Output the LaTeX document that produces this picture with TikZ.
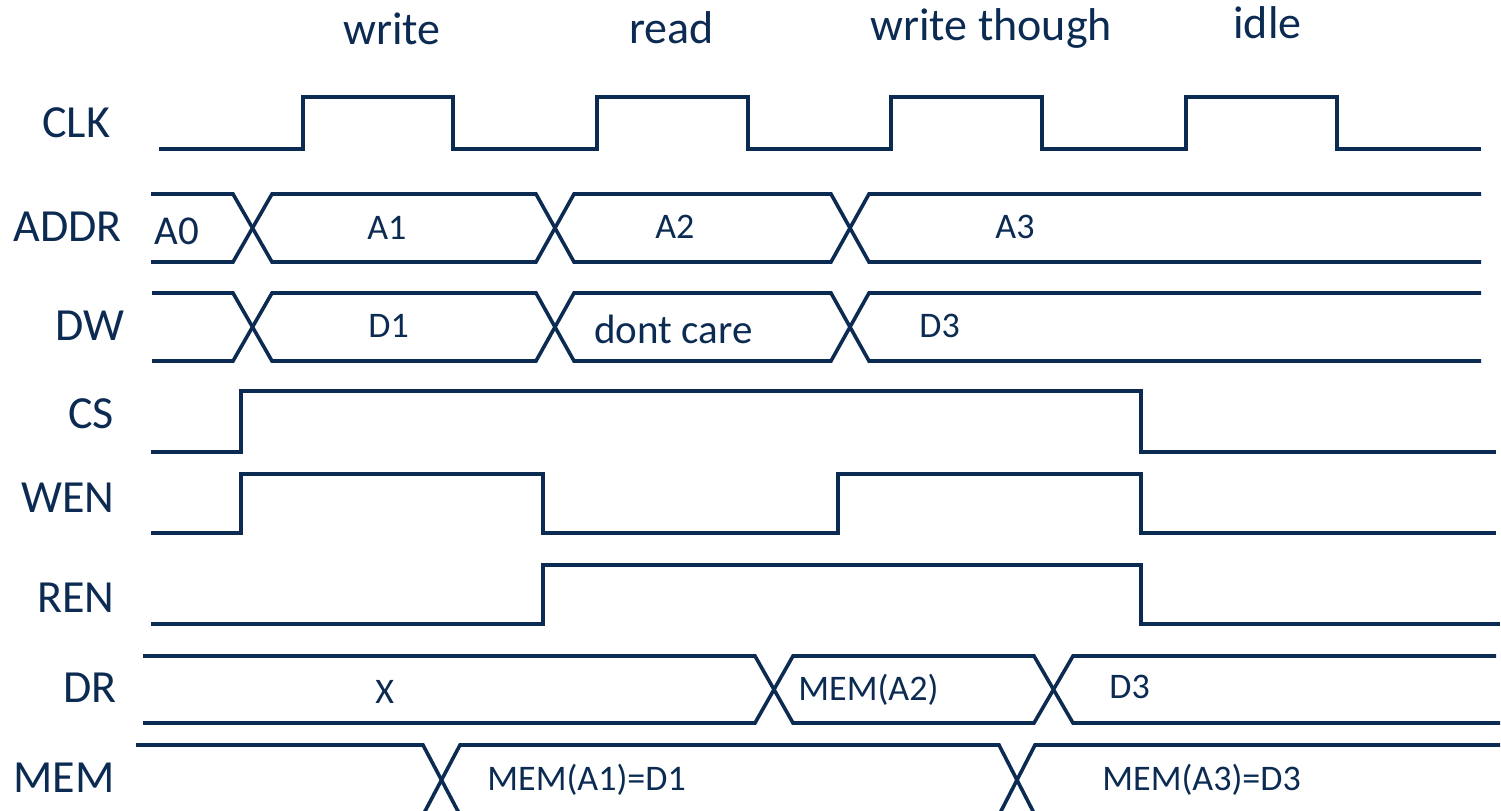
\documentclass[tikz,border=0pt]{standalone}
\usepackage{fontspec}
\setmainfont{Carlito}
\definecolor{navy}{RGB}{12,43,82}
\begin{document}
\begin{tikzpicture}[x=0.5pt,y=-0.5pt,
  sig/.style={draw=navy,line width=1.8pt},
  lab/.style={text=navy,inner sep=0pt,anchor=base west,font=\fontsize{23}{26}\selectfont},
  hdr/.style={text=navy,inner sep=0pt,anchor=base west,font=\fontsize{23}{26}\selectfont},
  val/.style={text=navy,inner sep=0pt,anchor=base west,font=\fontsize{18}{21}\selectfont},
  bigval/.style={text=navy,inner sep=0pt,anchor=base west,font=\fontsize{20.5}{23}\selectfont}]
\useasboundingbox (0,0) rectangle (1501,810);
% headers
\node[hdr] (hwrite) at (343,44) {write};
\node[hdr] (hread) at (629,43) {read};
\node[hdr] (hwt) at (870,40) {write though};
\node[hdr] (hidle) at (1233,38) {idle};
% signal names
\node[lab] (lclk) at (42,137) {CLK};
\node[lab] (laddr) at (13,241) {ADDR};
\node[lab] (ldw) at (55,340) {DW};
\node[lab] (lcs) at (68,428) {CS};
\node[lab] (lwen) at (21,512) {WEN};
\node[lab] (lren) at (37,612) {REN};
\node[lab] (ldr) at (63,702) {DR};
\node[lab] (lmem) at (13,792) {MEM};
% CLK
\draw[sig] (159,149) -- (303,149) -- (303,97) -- (453,97) -- (453,149) -- (597,149) -- (597,97) -- (748,97) -- (748,149) -- (891,149) -- (891,97) -- (1042,97) -- (1042,149) -- (1186,149) -- (1186,97) -- (1337,97) -- (1337,149) -- (1481,149);
% ADDR
\draw[sig] (151,194) -- (233,194) -- (272,262) -- (536,262) -- (574,194) -- (831,194) -- (869,262) -- (1481,262);
\draw[sig] (151,262) -- (233,262) -- (272,194) -- (536,194) -- (574,262) -- (831,262) -- (869,194) -- (1481,194);
\node[bigval] (va0) at (154,244) {A0};
\node[val] (va1) at (367,239) {A1};
\node[val] (va2) at (655,238) {A2};
\node[val] (va3) at (995,238) {A3};
% DW
\draw[sig] (152,293) -- (233,293) -- (272,361) -- (536,361) -- (574,293) -- (831,293) -- (869,361) -- (1481,361);
\draw[sig] (152,361) -- (233,361) -- (272,293) -- (536,293) -- (574,361) -- (831,361) -- (869,293) -- (1481,293);
\node[val] (vd1) at (368,337) {D1};
\node[bigval] (vdc) at (594,343) {dont care};
\node[val] (vd3) at (919,337) {D3};
% CS
\draw[sig] (151,452) -- (241,452) -- (241,391) -- (1141,391) -- (1141,452) -- (1496,452);
% WEN
\draw[sig] (151,533) -- (241,533) -- (241,474) -- (543,474) -- (543,533) -- (838,533) -- (838,474) -- (1141,474) -- (1141,533) -- (1496,533);
% REN
\draw[sig] (151,624) -- (543,624) -- (543,565) -- (1141,565) -- (1141,624) -- (1500,624);
% DR
\draw[sig] (143,656) -- (755,656) -- (793,723) -- (1034,723) -- (1073,656) -- (1496,656);
\draw[sig] (143,723) -- (755,723) -- (793,656) -- (1034,656) -- (1073,723) -- (1500,723);
\node[val] (vx) at (375,703) {X};
\node[val] (vmema2) at (798,700) {MEM(A2)};
\node[val] (vdr3) at (1109,698) {D3};
% MEM
\draw[sig] (136,745) -- (423,745) -- (460,815) -- (999,815) -- (1035,745) -- (1500,745);
\draw[sig] (136,815) -- (423,815) -- (460,745) -- (999,745) -- (1035,815) -- (1500,815);
\node[val] (vm1) at (487,790) {MEM(A1)=D1};
\node[val] (vm3) at (1102,790) {MEM(A3)=D3};
\end{tikzpicture}
\end{document}
